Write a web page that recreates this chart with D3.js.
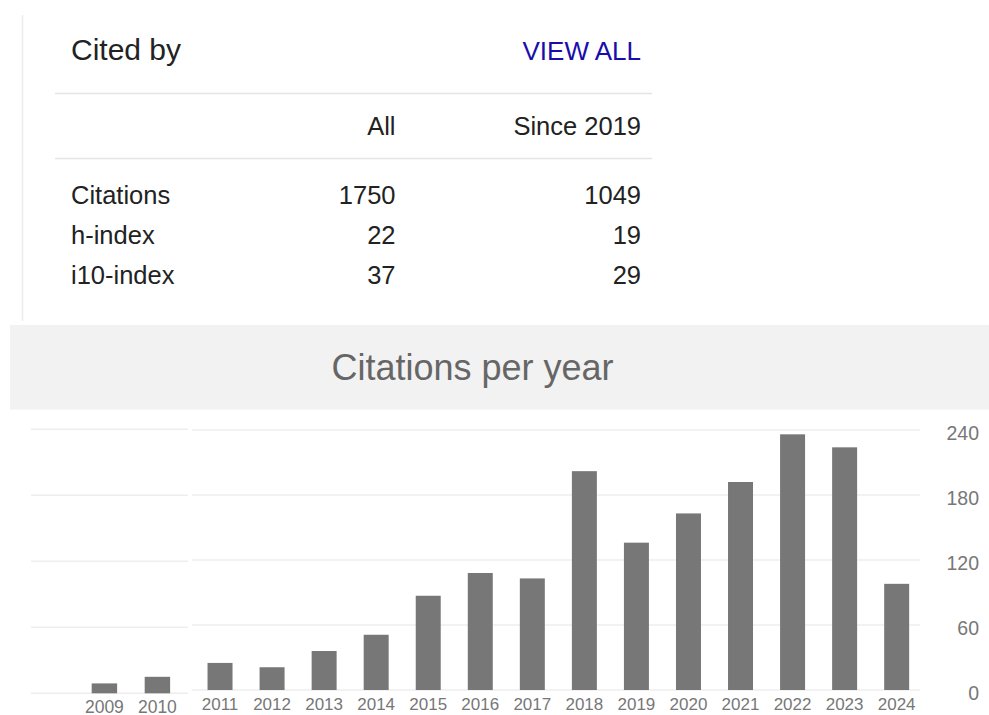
<!DOCTYPE html>
<html>
<head>
<meta charset="utf-8">
<script src="https://cdn.jsdelivr.net/npm/d3@7"></script>
<style>
  html, body { margin: 0; padding: 0; background: #fff; }
  svg { display: block; font-family: "Liberation Sans", Arial, sans-serif; }
</style>
</head>
<body>
<svg id="chart" width="989" height="715"></svg>
<script>
// Summary table
const metricNames = ["Citations", "h-index", "i10-index"];
const allValues = [1750, 22, 37];
const since2019Values = [1049, 19, 29];
const columnHeaders = ["All", "Since 2019"];

// Citations per year
const years = [2009, 2010, 2011, 2012, 2013, 2014, 2015, 2016, 2017, 2018, 2019, 2020, 2021, 2022, 2023, 2024];
const citations = [9, 15, 25, 21, 36, 51, 87, 108, 103, 202, 136, 163, 192, 236, 224, 98];
const yTicks = [0, 60, 120, 180, 240];

const svg = d3.select("#chart");

// ---- "Cited by" card ----
svg.append("line")
  .attr("x1", 22.5).attr("x2", 22.5).attr("y1", 15).attr("y2", 321)
  .attr("stroke", "#ececec").attr("stroke-width", 1.5);

svg.append("text").attr("x", 71).attr("y", 59.5)
  .attr("font-size", 30).attr("fill", "#222").text("Cited by");
svg.append("text").attr("x", 641).attr("y", 59.5).attr("text-anchor", "end")
  .attr("font-size", 26).attr("fill", "#1a0dab").text("VIEW ALL");

[93.5, 158.5].forEach(y => {
  svg.append("line").attr("x1", 55).attr("x2", 652).attr("y1", y).attr("y2", y)
    .attr("stroke", "#e4e4e4").attr("stroke-width", 1.5);
});

const colRight = [395.5, 641];
columnHeaders.forEach((h, i) => {
  svg.append("text").attr("x", colRight[i]).attr("y", 135).attr("text-anchor", "end")
    .attr("font-size", 25.5).attr("fill", "#222").text(h);
});

const rowY = [204.3, 244.3, 284.3];
metricNames.forEach((m, i) => {
  svg.append("text").attr("x", 71).attr("y", rowY[i])
    .attr("font-size", 25.5).attr("fill", "#222").text(m);
  svg.append("text").attr("x", colRight[0]).attr("y", rowY[i]).attr("text-anchor", "end")
    .attr("font-size", 25.5).attr("fill", "#222").text(allValues[i]);
  svg.append("text").attr("x", colRight[1]).attr("y", rowY[i]).attr("text-anchor", "end")
    .attr("font-size", 25.5).attr("fill", "#222").text(since2019Values[i]);
});

// ---- Title banner ----
svg.append("rect").attr("x", 10).attr("y", 325).attr("width", 979).attr("height", 84.5)
  .attr("fill", "#f2f2f2");
svg.append("text").attr("x", 472.5).attr("y", 380).attr("text-anchor", "middle")
  .attr("font-size", 36).attr("fill", "#666").text("Citations per year");

// ---- Bar panels ----
const data = years.map((yr, i) => ({ year: yr, value: citations[i] }));
const earlyData = data.filter(d => d.year <= 2010);
const mainData = data.filter(d => d.year >= 2011);

function drawPanel(rows, opts) {
  const x = d3.scaleBand()
    .domain(rows.map(d => d.year))
    .range(opts.xRange)
    .paddingInner(0.52)
    .paddingOuter(0.26);
  const y = d3.scaleLinear().domain([0, 240]).range(opts.yRange);
  const g = svg.append("g");

  g.selectAll("line.grid").data(yTicks).join("line")
    .attr("class", "grid")
    .attr("x1", opts.gridX[0]).attr("x2", opts.gridX[1])
    .attr("y1", d => y(d)).attr("y2", d => y(d))
    .attr("stroke", "#eeeeee").attr("stroke-width", 1.5);

  g.selectAll("rect.bar").data(rows).join("rect")
    .attr("class", "bar")
    .attr("x", d => x(d.year))
    .attr("width", x.bandwidth())
    .attr("y", d => y(d.value))
    .attr("height", d => y(0) - y(d.value))
    .attr("fill", "#777");

  g.selectAll("text.year").data(rows).join("text")
    .attr("class", "year")
    .attr("x", d => x(d.year) + x.bandwidth() / 2)
    .attr("y", opts.labelY)
    .attr("text-anchor", "middle")
    .attr("font-size", opts.labelSize)
    .attr("fill", "#777")
    .text(d => d.year);
  return y;
}

drawPanel(earlyData, {
  xRange: [77.9, 183.9], yRange: [693.3, 429.3], gridX: [31, 188],
  labelY: 712.5, labelSize: 17.5
});

const yMain = drawPanel(mainData, {
  xRange: [194, 922.7], yRange: [690, 430], gridX: [192, 920],
  labelY: 710, labelSize: 17
});

// Right-hand value axis
const yAxis = d3.axisRight(yMain).tickValues(yTicks).tickSize(0).tickPadding(0);
const axisG = svg.append("g").attr("transform", "translate(979,3)").call(yAxis);
axisG.select(".domain").remove();
axisG.selectAll("text")
  .attr("text-anchor", "end")
  .attr("font-size", 19.5)
  .attr("font-family", "\"Liberation Sans\", Arial, sans-serif")
  .attr("fill", "#777");
</script>
</body>
</html>
